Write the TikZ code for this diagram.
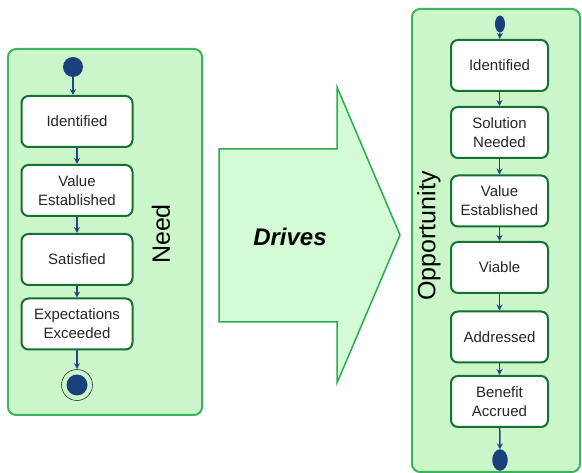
\documentclass[tikz,border=0pt]{standalone}
\usepackage{fontspec}
\setmainfont{Liberation Sans}
\usetikzlibrary{arrows.meta,shapes.geometric}

\definecolor{panelfill}{RGB}{202,246,202}
\definecolor{paneledge}{RGB}{60,180,95}
\definecolor{boxedge}{RGB}{22,112,52}
\definecolor{flowblue}{RGB}{32,72,132}
\definecolor{dotblue}{RGB}{26,64,124}
\definecolor{drivefill}{RGB}{212,252,212}
\definecolor{driveedge}{RGB}{40,172,82}

\tikzset{
  panel/.style={draw=paneledge, fill=panelfill, line width=2pt, rounded corners=8pt},
  state/.style={draw=boxedge, fill=white, line width=2pt, rounded corners=7pt,
    inner sep=0pt, align=center, text=black!85, font=\fontsize{15}{19}\selectfont},
  needbox/.style={state, minimum width=111pt, minimum height=51pt},
  oppbox/.style={state, minimum width=97pt, minimum height=51pt},
  flow/.style={draw=flowblue, line width=1.5pt, -{Stealth[length=6pt,width=6pt]}},
  sidelabel/.style={rotate=90, font=\fontsize{25}{30}\selectfont}
}

\begin{document}
\begin{tikzpicture}[x=1pt,y=-1pt]
			\useasboundingbox (0,0) rectangle (582,473);
			
			% Need panel
			\draw[panel] (8,49) rectangle (202,415);
			\node (needstart) at (73,67) [circle, fill=dotblue, minimum size=20pt, inner sep=0pt] {};
			\node (needid) at (77,121.5) [needbox] {Identified};
			\node (needval) at (77,190.5) [needbox] {Value\\Established};
			\node (needsat) at (77,259.5) [needbox] {Satisfied};
			\node (needexp) at (77,324) [needbox] {Expectations\\Exceeded};
			\node (needend) at (77,385) [circle, draw=black!80, line width=0.6pt, minimum size=31pt, inner sep=0pt] {};
			\fill[dotblue] (needend) circle (10.5);
			\node (needlabel) at (161,234) [sidelabel] {Need};
			
			\draw[flow] (needstart.south) -- (needstart.south |- needid.north);
			\draw[flow] (needid) -- (needval);
			\draw[flow] (needval) -- (needsat);
			\draw[flow] (needsat) -- (needexp);
			\draw[flow] (needexp) -- (needend);
			
			% Big arrow
			\draw[draw=driveedge, fill=drivefill, line width=1.5pt]
			(219,149) -- (337,149) -- (337,87) -- (400,235) -- (337,383) -- (337,322) -- (219,322) -- cycle;
			\node (drives) at (290,237) [font=\fontsize{24}{29}\selectfont\bfseries\itshape] {Drives};
			
			% Opportunity panel
			\draw[panel] (412,9) rectangle (580,472);
			\node (oppstart) at (500,24) [ellipse, fill=dotblue, minimum width=10pt, minimum height=17pt, inner sep=0pt] {};
			\node (oppid) at (499.5,65.5) [oppbox] {Identified};
			\node (oppsol) at (499.5,132.5) [oppbox] {Solution\\Needed};
			\node (oppval) at (499.5,201) [oppbox] {Value\\Established};
			\node (oppvia) at (499.5,267.5) [oppbox] {Viable};
			\node (oppadd) at (499.5,337) [oppbox] {Addressed};
			\node (oppben) at (499.5,401.5) [oppbox] {Benefit\\Accrued};
			\node (oppend) at (500,460) [ellipse, fill=dotblue, draw=flowblue, minimum width=15pt, minimum height=21pt, inner sep=0pt] {};
			\node (opplabel) at (429,236) [sidelabel] {Opportunity};
			
			\draw[flow] (oppstart) -- (oppid);
			\draw[flow] (oppid) -- (oppsol);
			\draw[flow] (oppsol) -- (oppval);
			\draw[flow] (oppval) -- (oppvia);
			\draw[flow] (oppvia) -- (oppadd);
			\draw[flow] (oppadd) -- (oppben);
			\draw[flow] (oppben) -- (oppend);
		\end{tikzpicture}
\end{document}
